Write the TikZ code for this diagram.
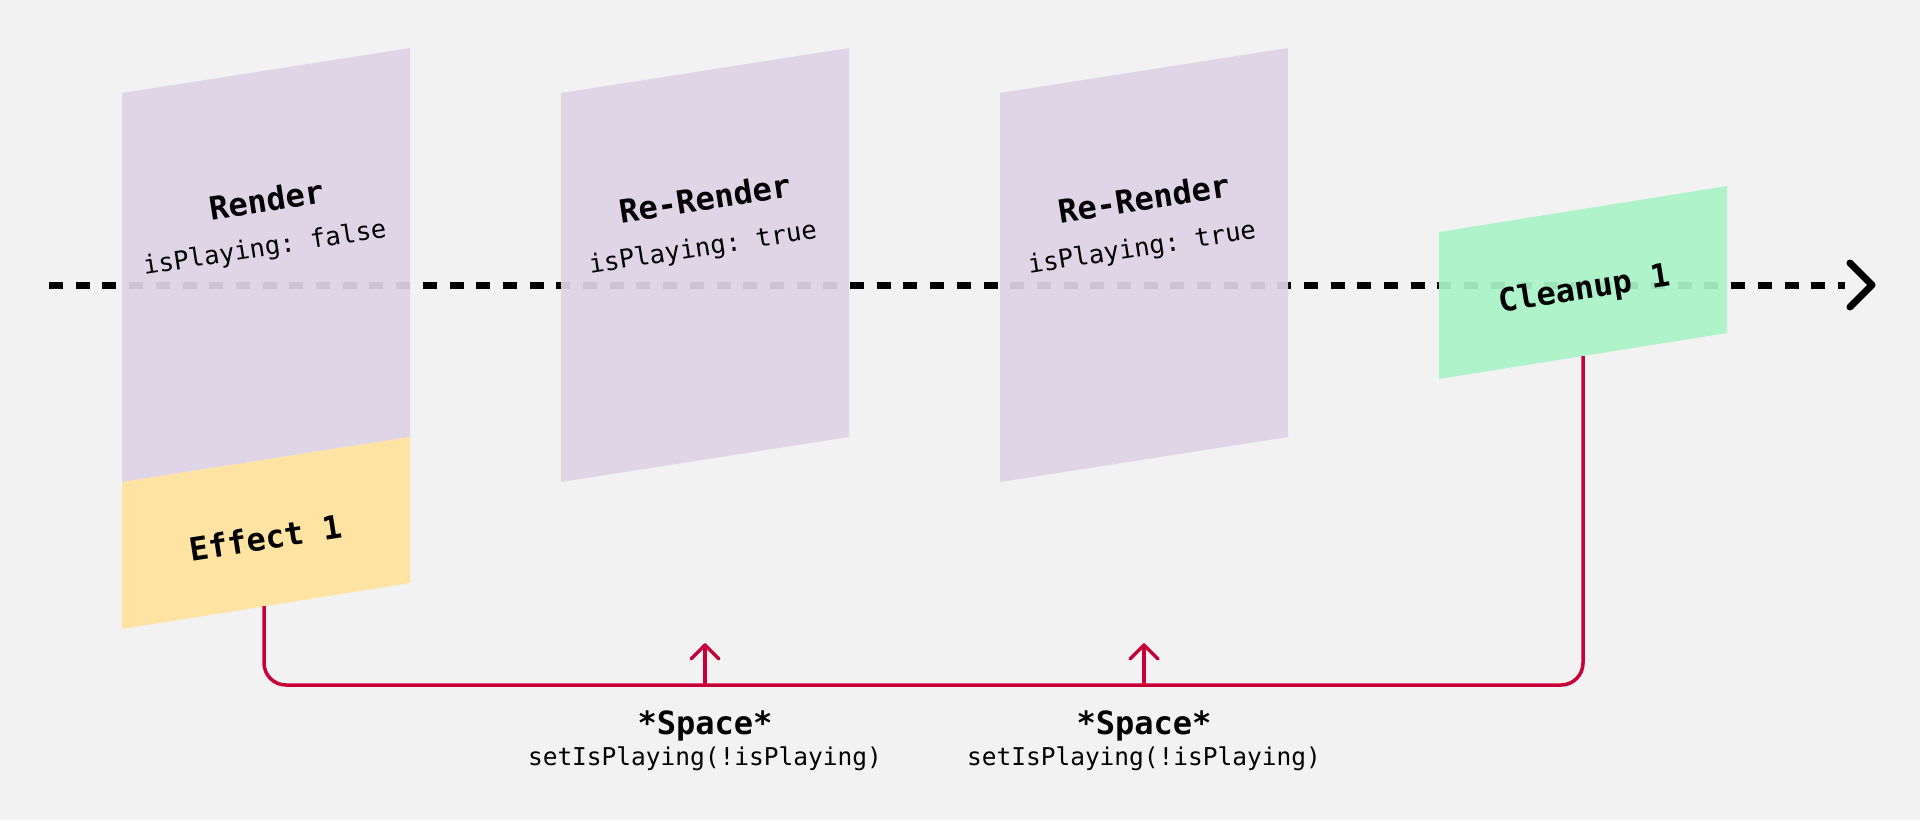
\documentclass[tikz,border=0pt]{standalone}
\usepackage{fontspec}
\setmonofont{DejaVu Sans Mono}
\usetikzlibrary{arrows.meta}
\definecolor{bg}{HTML}{F2F2F2}
\definecolor{lilac}{HTML}{DFD3E6}
\definecolor{butter}{HTML}{FFE29C}
\definecolor{mint}{HTML}{AAF4C8}
\definecolor{crimson}{HTML}{C8003A}
\tikzset{
  panel/.style={fill opacity=0.93, draw=none},
  title/.style={font=\ttfamily\bfseries\fontsize{32}{36}\selectfont, rotate=8.88, inner sep=0pt},
  state/.style={font=\ttfamily\fontsize{25.5}{29}\selectfont, rotate=8.88, inner sep=0pt},
  timeline/.style={line width=7pt, dash pattern=on 14pt off 12.7pt},
  chev/.style={line width=7pt, line cap=round, line join=round},
  loopline/.style={crimson, line width=3.5pt, rounded corners=22pt},
  uparrow/.style={crimson, line width=3.5pt, line cap=round, line join=round},
  keylbl/.style={font=\ttfamily\bfseries\fontsize{32}{36}\selectfont, inner sep=0pt},
  calllbl/.style={font=\ttfamily\fontsize{24.5}{28}\selectfont, inner sep=0pt}
}
\begin{document}
\begin{tikzpicture}[x=1pt,y=-1pt]
\fill[bg] (0,0) rectangle (1920,820);
\useasboundingbox (0,0) rectangle (1920,820);
% timeline
\coordinate (tstart) at (49,285);
\coordinate (tend) at (1872,285);
\draw[timeline] (tstart) -- (1845,285);
\draw[chev] (1850,263) -- (tend) -- (1850,307);
% panels
\fill[lilac,panel] (122,93) -- (410,48) -- (410,437) -- (122,482) -- cycle;
\fill[butter,panel] (122,482) -- (410,437) -- (410,583) -- (122,629) -- cycle;
\fill[lilac,panel] (561,93) -- (849,48) -- (849,437) -- (561,482) -- cycle;
\fill[lilac,panel] (1000,93) -- (1288,48) -- (1288,437) -- (1000,482) -- cycle;
\fill[mint,panel] (1439,232) -- (1727,186) -- (1727,333) -- (1439,379) -- cycle;
% texts
\node[title] (render) at (267,200) {Render};
\node[state] (s1) at (265,249) {isPlaying: false};
\node[title] (rr1) at (705,198) {Re-Render};
\node[state] (s2) at (703,249) {isPlaying: true};
\node[title] (rr2) at (1144,198) {Re-Render};
\node[state] (s3) at (1142,249) {isPlaying: true};
\node[title] (effect) at (266,538) {Effect 1};
\node[title] (cleanup) at (1585,290) {Cleanup 1};
% loop
\coordinate (effbot) at (264,606);
\coordinate (cleanbot) at (1583,356);
\draw[loopline] (effbot) -- (264,685) -- (1583,685) -- (cleanbot);
\coordinate (a1base) at (705,685);
\coordinate (a1tip) at (705,645);
\coordinate (a2base) at (1144,685);
\coordinate (a2tip) at (1144,645);
\draw[uparrow] (a1base) -- (a1tip);
\draw[uparrow] (691,659) -- (a1tip) -- (719,659);
\draw[uparrow] (a2base) -- (a2tip);
\draw[uparrow] (1130,659) -- (a2tip) -- (1158,659);
% labels
\node[keylbl] (k1) at (705,726) {*Space*};
\node[calllbl] (c1) at (705,759) {setIsPlaying(!isPlaying)};
\node[keylbl] (k2) at (1144,726) {*Space*};
\node[calllbl] (c2) at (1144,759) {setIsPlaying(!isPlaying)};
\end{tikzpicture}
\end{document}
